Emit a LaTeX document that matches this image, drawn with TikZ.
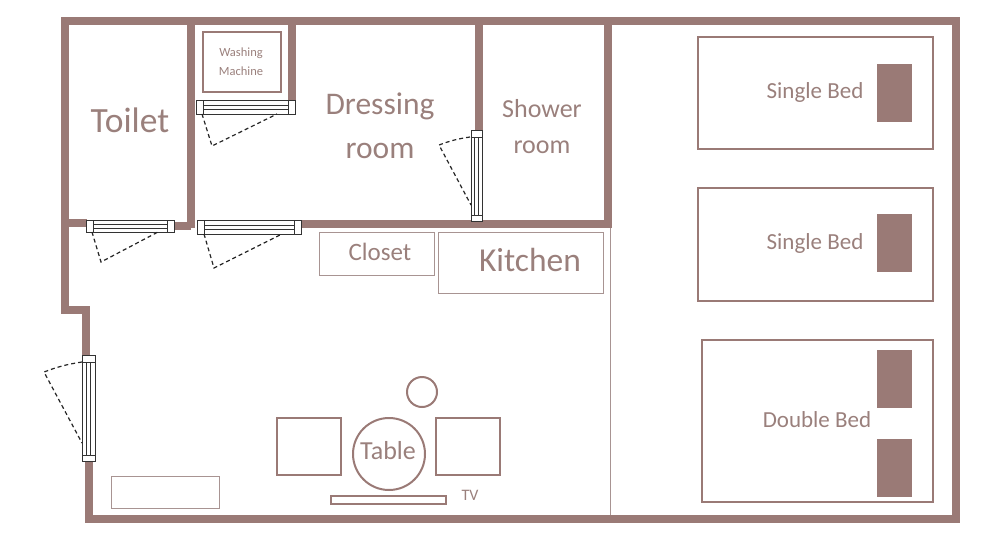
\documentclass[tikz,border=0pt]{standalone}
\usepackage{fontspec}
\setmainfont{Carlito}
\definecolor{wallcol}{HTML}{9A7A76}
\definecolor{thincol}{HTML}{A89492}
\definecolor{txtcol}{HTML}{9A807C}
\tikzset{
  wall/.style={draw=wallcol,line width=8pt,line join=miter},
  room/.style={draw=thincol,line width=1pt},
  furn/.style={draw=wallcol,line width=2pt},
  pillow/.style={fill=wallcol},
  leaf/.style={draw=black!80,line width=.9pt,fill=white},
  swing/.style={draw=black!85,line width=1.2pt,dash pattern=on 4pt off 3pt},
  lbl/.style={text=txtcol,align=center,inner sep=0pt}
}
\begin{document}
\begin{tikzpicture}[x=1pt,y=-1pt]
  \useasboundingbox (0,0) rectangle (1000,541);

  % walls
  \draw[wall] (65,21) -- (65,310) -- (86,310) -- (86,356);
  \draw[wall] (89,461) -- (89,519) -- (956,519) -- (956,21) -- (61,21);
  \draw[wall] (191,21) -- (191,228);
  \draw[wall] (292,21) -- (292,102);
  \draw[wall] (479,21) -- (479,131);
  \draw[wall] (608,21) -- (608,228);
  \draw[wall] (300,224) -- (612,224);
  \draw[wall] (65,223) -- (87,223);
  \draw[wall] (173,226) -- (191,226);

  % doors
  \foreach \xa/\xb/\ya/\yb in {196/295/100/114, 86/174/220/232, 197/301/220/234} {
    \draw[leaf] (\xa,\ya) rectangle (\xb,\yb);
    \draw[leaf] (\xa+7,\ya) -- (\xa+7,\yb);
    \draw[leaf] (\xb-7,\ya) -- (\xb-7,\yb);
    \draw[leaf] (\xa+7,\ya/2+\yb/2-2) -- (\xb-7,\ya/2+\yb/2-2);
    \draw[leaf] (\xa+7,\ya/2+\yb/2+2) -- (\xb-7,\ya/2+\yb/2+2);
  }
  \foreach \xa/\xb/\ya/\yb in {82/95/355/461, 471/482/130/221} {
    \draw[leaf] (\xa,\ya) rectangle (\xb,\yb);
    \draw[leaf] (\xa,\ya+7) -- (\xb,\ya+7);
    \draw[leaf] (\xa,\yb-6) -- (\xb,\yb-6);
    \draw[leaf] (\xa/2+\xb/2-2,\ya+7) -- (\xa/2+\xb/2-2,\yb-6);
    \draw[leaf] (\xa/2+\xb/2+2,\ya+7) -- (\xa/2+\xb/2+2,\yb-6);
  }

  % door swings
  \draw[swing] (202,114) -- (212,146) -- (277,114);
  \draw[swing] (92,232) -- (101,262) -- (158,232);
  \draw[swing] (204,234) -- (214,268) -- (282,234);
  \draw[swing] (82,362) to[bend right=6] (44,372) -- (82,443);
  \draw[swing] (470,137) to[bend right=6] (439,145) -- (471,205);

  % room boxes
  \draw[room] (610,228) -- (610,515);
  \draw[room] (319.5,232.5) rectangle (434.5,275);
  \draw[room] (438.5,232.5) rectangle (603.5,293);
  \draw[room] (111,476) rectangle (219,508);
  \draw[furn,line width=1.5pt] (203,32) rectangle (281,92);

  % beds
  \draw[furn] (698,37) rectangle (933,149);
  \draw[furn] (698,188) rectangle (933,301);
  \draw[furn] (702,340) rectangle (933,502);
  \fill[pillow] (877,64) rectangle (912,122);
  \fill[pillow] (877,214) rectangle (912,272);
  \fill[pillow] (877,350) rectangle (912,408);
  \fill[pillow] (877,439) rectangle (912,497);

  % table set
  \draw[furn] (389,454) circle (36);
  \draw[furn] (422,392) circle (15);
  \draw[furn] (277,418) rectangle (341,475);
  \draw[furn] (436,418) rectangle (500,475);
  \draw[furn] (331,496) rectangle (446,504);

  % labels
  \node[lbl,font=\fontsize{35.5}{36}\selectfont] (toilet) at (130,120) {Toilet};
  \node[lbl,font=\fontsize{12.5}{19}\selectfont] (washer) at (241,62) {Washing\\Machine};
  \node[lbl,font=\fontsize{31.5}{44}\selectfont] (dressing) at (380,126) {Dressing\\room};
  \node[lbl,font=\fontsize{26}{36}\selectfont] (shower) at (542,127) {Shower\\room};
  \node[lbl,font=\fontsize{25}{25}\selectfont] (closet) at (380,252) {Closet};
  \node[lbl,font=\fontsize{33.5}{34}\selectfont] (kitchen) at (530,260) {Kitchen};
  \node[lbl,font=\fontsize{23}{23}\selectfont] (bedone) at (815,92) {Single Bed};
  \node[lbl,font=\fontsize{23}{23}\selectfont] (bedtwo) at (815,243) {Single Bed};
  \node[lbl,font=\fontsize{23}{23}\selectfont] (bedthree) at (817,420) {Double Bed};
  \node[lbl,font=\fontsize{26}{26}\selectfont] (table) at (388,451) {Table};
  \node[lbl,font=\fontsize{16}{16}\selectfont] (tv) at (470,495) {TV};
\end{tikzpicture}
\end{document}
